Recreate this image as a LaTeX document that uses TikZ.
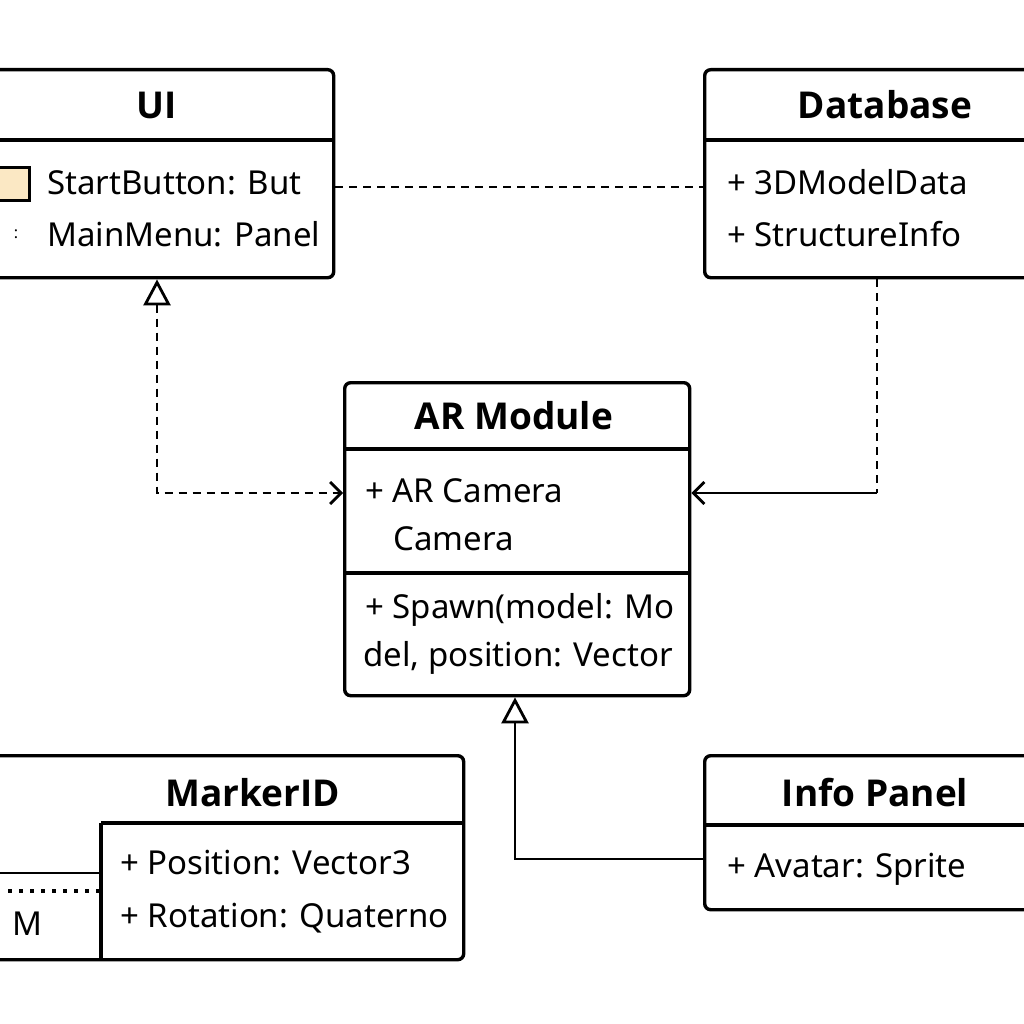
\documentclass[tikz,border=0pt]{standalone}
\usepackage{fontspec}
\setmainfont{Noto Sans}
\newfontfamily\hdrfont{Open Sans}
\usetikzlibrary{arrows.meta}
\definecolor{sqfill}{HTML}{FBE8C4}
\tikzset{
  x=1pt, y=-1pt,
  umlbox/.style={draw, line width=3.4pt, rounded corners=6pt, inner sep=0pt, anchor=north west},
  divider/.style={line width=3.4pt},
  ttl/.style={font=\hdrfont\fontsize{37}{44}\selectfont\bfseries, anchor=base, inner sep=0pt},
  itm/.style={font=\fontsize{33}{39}\selectfont, anchor=base west, inner sep=0pt},
  conn/.style={line width=2.8pt},
  dashline/.style={conn, dash pattern=on 8pt off 6pt},
  dotline/.style={line width=3.2pt, dash pattern=on 4pt off 7pt},
  opentri/.tip={Triangle[open, length=26pt, width=27pt, line width=2.8pt]},
  openbarb/.tip={Straight Barb[length=11pt, width=22pt, line width=2.8pt]},
}
\begin{document}
\begin{tikzpicture}
\useasboundingbox (0,0) rectangle (1024,1024);
\clip (0,0) rectangle (1024,1024);
\fill[white] (0,0) rectangle (1024,1024);
% coordinates
\coordinate (yA) at (0,187);
\coordinate (yB) at (0,493);
\coordinate (yC) at (0,859);
\coordinate (xA) at (157,0);
\coordinate (xB) at (877,0);
\coordinate (xC) at (515,0);
% UI
\node[umlbox, minimum width=362pt, minimum height=208pt] (ui) at (-30,68) {};
\draw[divider] (ui.west |- 0,140) -- (ui.east |- 0,140);
\node[ttl] (uit) at (157,119) {UI};
\node[draw, line width=2.8pt, fill=sqfill, minimum width=40pt, minimum height=33pt, inner sep=0pt, anchor=north west] (sq) at (-12,166) {};
\node[itm] (ui1) at (47,195) {StartButton: But};
\node[font=\fontsize{16}{18}\selectfont, anchor=base, inner sep=0pt] (ucol) at (16,238) {:};
\node[itm] (ui2) at (47,247) {MainMenu: Panel};
% Database
\node[umlbox, minimum width=360pt, minimum height=208pt] (db) at (703,68) {};
\draw[divider] (db.west |- 0,140) -- (db.east |- 0,140);
\node[ttl] (dbt) at (885,119) {Database};
\node[itm] (db1) at (727,195) {+ 3DModelData};
\node[itm] (db2) at (727,247) {+ StructureInfo};
% AR Module
\node[umlbox, minimum width=345pt, minimum height=313pt] (ar) at (343,381) {};
\draw[divider] (ar.west |- 0,449) -- (ar.east |- 0,449);
\draw[divider] (ar.west |- 0,573) -- (ar.east |- 0,573);
\node[ttl] (art) at (514,429) {AR Module};
\node[itm] (ar1) at (365,502) {+ AR Camera};
\node[itm] (ar2) at (393,550) {Camera};
\node[itm] (ar3) at (365,618) {+ Spawn(model: Mo};
\node[itm] (ar4) at (363,666) {del, position: Vector};
% Info Panel
\node[umlbox, minimum width=360pt, minimum height=154pt] (info) at (703,754) {};
\draw[divider] (info.west |- 0,825) -- (info.east |- 0,825);
\node[ttl] (inft) at (875,806) {Info Panel};
\node[itm] (inf1) at (727,877) {+ Avatar: Sprite};
% MarkerID
\node[umlbox, minimum width=492pt, minimum height=204pt] (mk) at (-30,754) {};
\coordinate (mkin) at (101,823);
\draw[divider] (mkin) -- (mk.east |- mkin);
\draw[divider] (mkin) -- (mkin |- mk.south);
\draw[line width=2.8pt] (mk.west |- 0,873) -- (mkin |- 0,873);
\draw[dotline] (8,891) -- (mkin |- 0,891);
\node[ttl] (mkt) at (253,806) {MarkerID};
\node[itm] (mk1) at (120,874) {+ Position: Vector3};
\node[itm] (mk2) at (120,927) {+ Rotation: Quaterno};
\node[itm] (mkm) at (12,935) {M};
% connectors
\draw[dashline, opentri-openbarb] (ui.south -| xA) |- (ar.west |- yB);
\draw[dashline] (ui.east |- yA) -- (db.west |- yA);
\draw[dashline] (db.south -| xB) -- (xB |- yB);
\draw[conn, -openbarb] (xB |- yB) -- (ar.east |- yB);
\draw[conn, opentri-] (ar.south -| xC) |- (info.west |- yC);
\end{tikzpicture}
\end{document}
